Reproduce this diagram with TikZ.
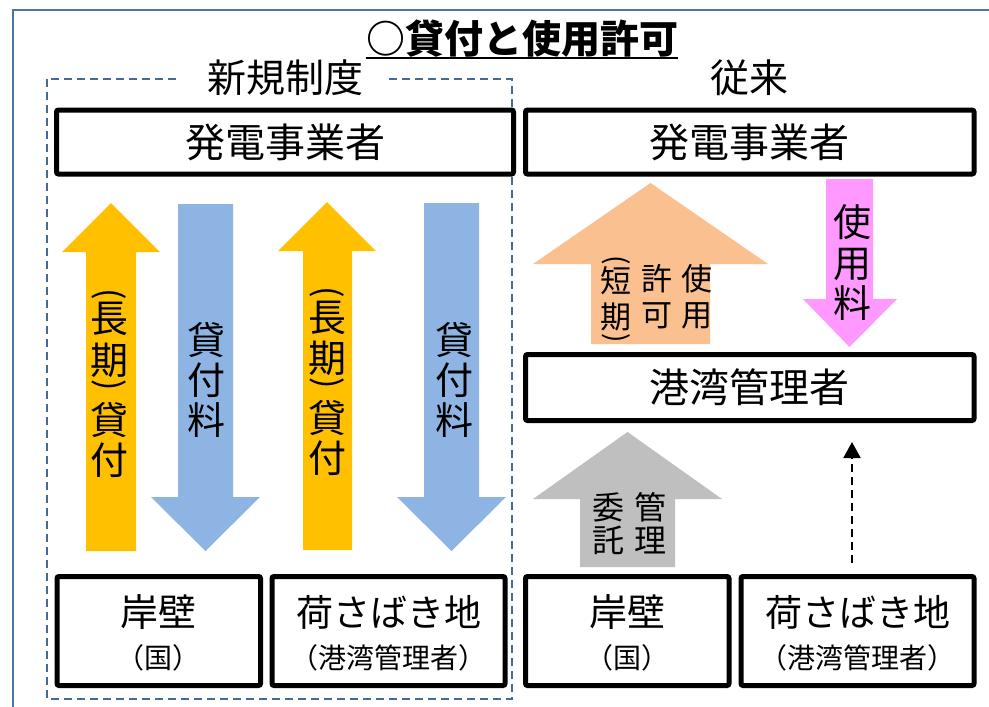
\documentclass[tikz,border=0pt]{standalone}
\usepackage{fontspec}
\setmainfont{Noto Sans CJK JP}
\usetikzlibrary{arrows.meta}
\definecolor{frameblue}{RGB}{74,116,170}
\definecolor{dashblue}{RGB}{70,105,150}
\definecolor{ayellow}{RGB}{255,192,0}
\definecolor{ablue}{RGB}{142,180,227}
\definecolor{apeach}{RGB}{250,192,144}
\definecolor{apink}{RGB}{255,153,255}
\definecolor{agray}{RGB}{191,191,191}
\begin{document}
\begin{tikzpicture}[x=1pt,y=-1pt,
  txt/.style={inner sep=0pt, font=\fontsize{#1}{#1}\selectfont, text height={0.88*#1pt}, text depth={0.12*#1pt}},
  ptxt/.style={inner sep=0pt, font=\fontsize{#1}{#1}\selectfont, rotate=-90},
  box/.style={draw=black, line width=5pt, rounded corners=2pt, fill=white, inner sep=0pt},
  dasharr/.style={line width=2pt, dash pattern=on 8pt off 5pt, -{Triangle[width=17pt,length=16pt]}}]
\useasboundingbox (0,0) rectangle (989,707);
\clip (0,0) rectangle (989,707);
\fill[white] (0,0) rectangle (989,707);
% outer frame
\draw[frameblue, line width=2pt] (12.7,9.5) rectangle (1010,730);
% dashed group box
\draw[dashblue, line width=1.6pt, dash pattern=on 8pt off 5pt] (47,79) rectangle (512,699);
\node[txt=39, fill=white, inner xsep=26pt] (newlab) at (285,78) {新規制度};
\node[txt=39] (oldlab) at (749.5,78) {従来};
% title
\node[txt=39, font=\fontsize{39}{39}\selectfont\bfseries] (title) at (522,38.5) {○貸付と使用許可};
\draw[line width=2.5pt] (title.south west) -- (title.south east);
% block arrows (left)
\fill[ayellow] (86,551) -- (86,252) -- (62,252) -- (111,203) -- (160,252) -- (136,252) -- (136,551) -- cycle;
\fill[ablue] (178,204) -- (233,204) -- (233,497) -- (260,497) -- (205.5,551) -- (151,497) -- (178,497) -- cycle;
\fill[ayellow] (303,550) -- (303,251) -- (278,251) -- (327,202) -- (376,251) -- (352,251) -- (352,550) -- cycle;
\fill[ablue] (424,203) -- (479,203) -- (479,497) -- (506,497) -- (451.5,551) -- (397,497) -- (424,497) -- cycle;
% block arrows (right)
\fill[apeach] (591,344) -- (591,264) -- (533,264) -- (650.5,183) -- (768,264) -- (710,264) -- (710,344) -- cycle;
\fill[apink] (826,179) -- (873,179) -- (873,299) -- (897,299) -- (849.5,347) -- (803,299) -- (826,299) -- cycle;
\fill[agray] (580,567) -- (580,499) -- (533,499) -- (627.5,432) -- (722,499) -- (675,499) -- (675,567) -- cycle;
% arrow texts
\node[ptxt=34] (yap1) at (109,294) {(};
\node[ptxt=34] (yap2) at (109,385) {)};
\foreach \ch/\yy [count=\i] in {長/318,期/360,貸/420,付/460}
  \node[txt=38] (ya\i) at (109,\yy) {\ch};
\node[ptxt=34] (ybp1) at (327,292) {(};
\node[ptxt=34] (ybp2) at (327,383) {)};
\foreach \ch/\yy [count=\i] in {長/317,期/358,貸/418,付/458}
  \node[txt=38] (yb\i) at (327,\yy) {\ch};
\foreach \ch/\yy [count=\i] in {貸/340,付/380,料/420}
  \node[txt=38] (ba\i) at (206,\yy) {\ch};
\foreach \ch/\yy [count=\i] in {貸/340,付/380,料/420}
  \node[txt=38] (bb\i) at (454,\yy) {\ch};
\foreach \ch/\yy [count=\i] in {使/222,用/263,料/303}
  \node[txt=38] (pk\i) at (852,\yy) {\ch};
\foreach \ch/\xx/\yy [count=\i] in {使/697/279,用/697/315,許/657/279,可/657/315,短/616/281,期/616/317}
  \node[txt=31] (pe\i) at (\xx,\yy) {\ch};
\node[ptxt=28] (pep1) at (616,260) {(};
\node[ptxt=28] (pep2) at (616,338) {)};
\foreach \ch/\xx/\yy [count=\i] in {管/650/507,理/650/540,委/608/507,託/608/540}
  \node[txt=32] (gr\i) at (\xx,\yy) {\ch};
% boxes
\node[box, txt=40, minimum width=457pt, minimum height=64pt] (genL) at (285,142) {発電事業者};
\node[box, txt=40, minimum width=448.5pt, minimum height=64pt] (genR) at (749.75,142) {発電事業者};
\node[box, txt=40, minimum width=448.5pt, minimum height=66pt] (port) at (749.75,387.5) {港湾管理者};
\node[box, minimum width=203.5pt, minimum height=109pt] (qL) at (158.75,631) {};
\node[box, minimum width=233pt, minimum height=109pt] (cL) at (388.5,631) {};
\node[box, minimum width=203.5pt, minimum height=109pt] (qR) at (627.25,631) {};
\node[box, minimum width=233pt, minimum height=109pt] (cR) at (857.5,631) {};
\node[txt=38] (qLa) at ([yshift=19pt]qL.center) {岸壁};
\node[txt=28] (qLb) at ([yshift=-27pt]qL.center) {（国）};
\node[txt=37] (cLa) at ([yshift=19pt]cL.center) {荷さばき地};
\node[txt=28] (cLb) at ([yshift=-27pt]cL.center) {（港湾管理者）};
\node[txt=38] (qRa) at ([yshift=19pt]qR.center) {岸壁};
\node[txt=28] (qRb) at ([yshift=-27pt]qR.center) {（国）};
\node[txt=37] (cRa) at ([yshift=19pt]cR.center) {荷さばき地};
\node[txt=28] (cRb) at ([yshift=-27pt]cR.center) {（港湾管理者）};
% dashed connector
\coordinate (xd) at (852,0);
\draw[dasharr, shorten <=11pt, shorten >=19pt] (cR.north -| xd) -- (port.south -| xd);
\end{tikzpicture}
\end{document}
